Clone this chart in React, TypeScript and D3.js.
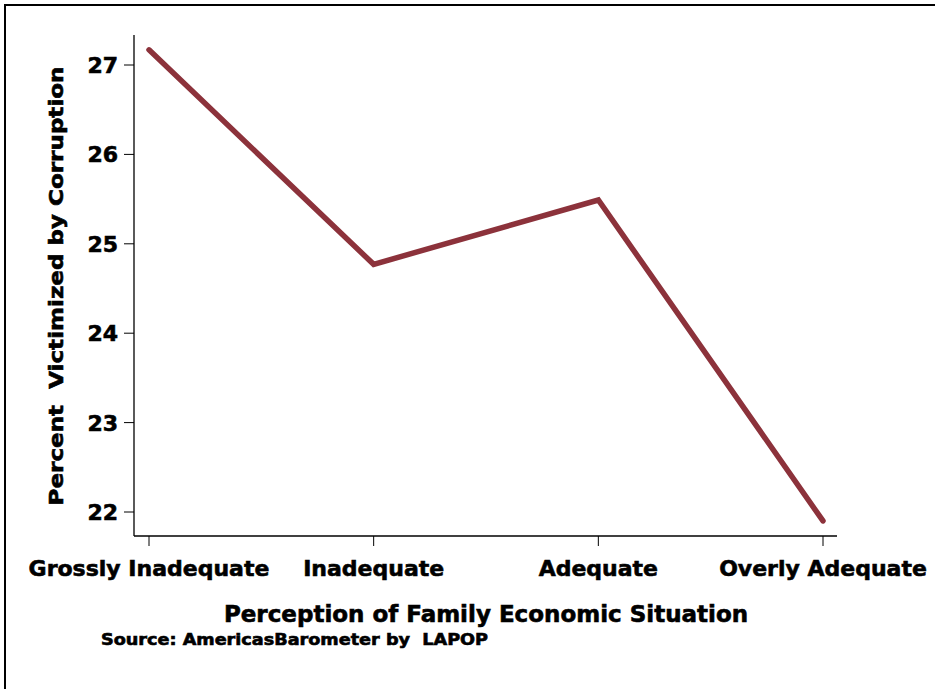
import React from "react";
import * as d3 from "d3";

const categories = ["Grossly Inadequate", "Inadequate", "Adequate", "Overly Adequate"];
const values = [27.17, 24.77, 25.49, 21.9];
const yTicks = [22, 23, 24, 25, 26, 27];

const FONT = "'DejaVu Sans', 'Liberation Sans', sans-serif";
const heavy = { stroke: "#000", strokeWidth: 0.6, paintOrder: "stroke" as const };

export default function App() {
  const W = 935, H = 689;
  const x = d3.scaleLinear().domain([0, categories.length - 1]).range([149, 823]);
  const y = d3.scaleLinear().domain([22, 27]).range([512, 65]);
  const axisLeft = 134, axisRight = 837, axisTop = 35, axisBottom = 536;
  const line = d3.line<number>().x((_, i) => x(i)).y((d) => y(d));

  return (
    <div style={{ position: "absolute", left: 0, top: 0 }}>
      <svg width={W} height={H} style={{ display: "block", background: "#fff" }}>
        <rect x={5} y={5} width={W + 20} height={H + 20} fill="#fff" stroke="#000" strokeWidth={2} />
        {/* y axis */}
        <line x1={axisLeft} x2={axisLeft} y1={axisTop} y2={axisBottom} stroke="#000" strokeWidth={1.3} />
        {yTicks.map((t) => (
          <g key={t}>
            <line x1={axisLeft - 10} x2={axisLeft} y1={y(t)} y2={y(t)} stroke="#000" strokeWidth={1} />
            <text x={118} y={y(t)} dy="0.36em" textAnchor="end" fontFamily={FONT} fontWeight="bold" fontSize={22} fill="#000" {...heavy}>{t}</text>
          </g>
        ))}
        {/* x axis */}
        <line x1={axisLeft} x2={axisRight} y1={axisBottom} y2={axisBottom} stroke="#000" strokeWidth={1.3} />
        {categories.map((c, i) => (
          <g key={c}>
            <line x1={x(i)} x2={x(i)} y1={axisBottom} y2={axisBottom + 10} stroke="#000" strokeWidth={1} />
            <text x={x(i)} y={576} textAnchor="middle" fontFamily={FONT} fontWeight="bold" fontSize={22} fill="#000" {...heavy}>{c}</text>
          </g>
        ))}
        <path d={line(values) || ""} fill="none" stroke="#8C323B" strokeWidth={5.5} strokeLinecap="round" strokeLinejoin="miter" />
        <text x={486} y={622} textAnchor="middle" fontFamily={FONT} fontWeight="bold" fontSize={23} fill="#000" {...heavy}>Perception of Family Economic Situation</text>
        <text x={101} y={645} fontFamily={FONT} fontWeight="bold" fontSize={15} fill="#000" textLength={387} lengthAdjust="spacingAndGlyphs" style={{ whiteSpace: "pre" }} {...heavy}>{"Source: AmericasBarometer by  LAPOP"}</text>
        <text transform="translate(63,286) rotate(-90)" textAnchor="middle" fontFamily={FONT} fontWeight="bold" fontSize={20} fill="#000" textLength={439} lengthAdjust="spacingAndGlyphs" style={{ whiteSpace: "pre" }} {...heavy}>{"Percent  Victimized by Corruption"}</text>
      </svg>
    </div>
  );
}
